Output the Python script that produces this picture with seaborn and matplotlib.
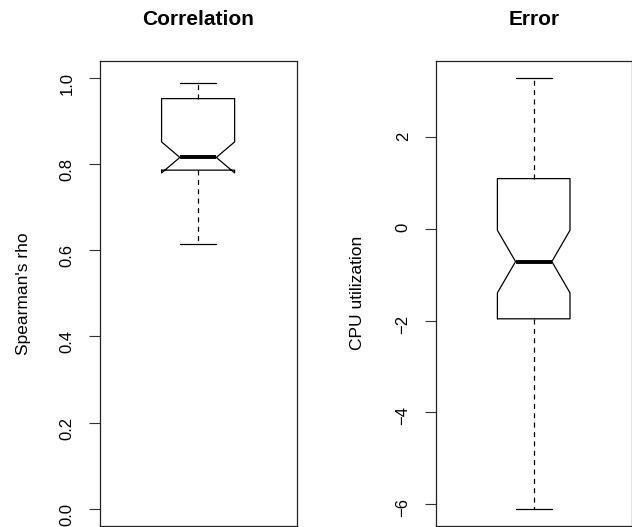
import matplotlib
matplotlib.use("Agg")
import matplotlib.pyplot as plt
import seaborn as sns

# panel texts
titles = ["Correlation", "Error"]
ylabels = ["Spearman's rho", "CPU utilization"]

# five-number summaries + notch limits
whislo = [0.615, -6.10]
q1 = [0.786, -1.96]
med = [0.8155, -0.712]
q3 = [0.952, 1.096]
whishi = [0.988, 3.29]
cilo = [0.7795, -1.394]
cihi = [0.8515, -0.030]

# axis ticks
yticks = [[0.0, 0.2, 0.4, 0.6, 0.8, 1.0], [-6, -4, -2, 0, 2]]
yticklabels = [["0.0", "0.2", "0.4", "0.6", "0.8", "1.0"], ["\u22126", "\u22124", "\u22122", "0", "2"]]
ylims = [(-0.04, 1.04), (-6.476, 3.666)]

sns.set_theme(style="white")
plt.rcParams["font.family"] = ["Liberation Sans", "DejaVu Sans"]

fig = plt.figure(figsize=(6.32, 5.27), dpi=100)
W, H = 632, 527
# left edge px, width px, label anchor px
panels = [(99.5, 197.2, 31.0), (435.7, 196.0, 365.0)]
top_px, bot_px = 60.7, 526.0

for i, (x0, w, lab_x) in enumerate(panels):
    ax = fig.add_axes([x0 / W, (H - bot_px) / H, w / W, (bot_px - top_px) / H])
    stats = [{
        "med": med[i], "q1": q1[i], "q3": q3[i],
        "whislo": whislo[i], "whishi": whishi[i],
        "cilo": cilo[i], "cihi": cihi[i], "label": "",
    }]
    ax.bxp(stats, positions=[1], widths=[0.40], shownotches=True, showfliers=False,
           boxprops=dict(color="black", linewidth=0.9),
           whiskerprops=dict(color="black", linewidth=0.9, linestyle=(0, (4, 3.5))),
           capprops=dict(color="black", linewidth=0.9),
           medianprops=dict(color="black", linewidth=2.8, solid_capstyle="butt"))
    ax.set_xlim(0.46, 1.54)
    ax.set_ylim(*ylims[i])
    ax.set_xticks([])
    ax.set_yticks(yticks[i])
    ax.set_yticklabels(yticklabels[i])
    ax.tick_params(axis="y", left=True, length=8, width=0.8, color="#333333",
                   pad=10, labelsize=12, labelrotation=90, labelcolor="black")
    for sp in ax.spines.values():
        sp.set_visible(True)
        sp.set_color("#222222")
        sp.set_linewidth(0.9)
    ax.set_facecolor("white")
    ax.set_ylabel(ylabels[i], fontsize=12.5, color="black")
    ax.yaxis.set_label_coords((lab_x - x0) / w, 0.5)
    ax.set_title(titles[i], fontsize=15, fontweight="bold", pad=25.5, color="black")

fig.savefig("out.png", dpi=100, facecolor="white")
